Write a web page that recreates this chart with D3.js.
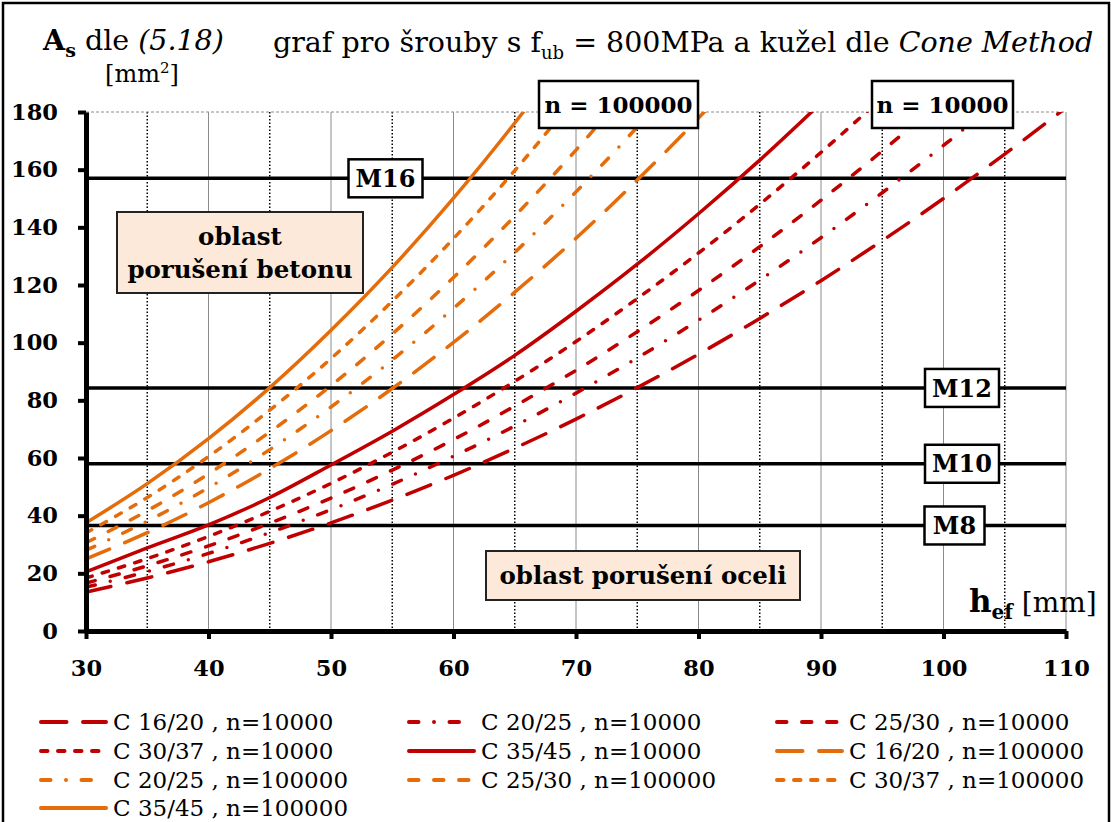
<!DOCTYPE html>
<html>
<head>
<meta charset="utf-8">
<script src="https://cdn.jsdelivr.net/npm/d3@7"></script>
<style>
    body { margin: 0; background: #fff; }
    svg { font-family: "DejaVu Serif", serif; }
</style>
</head>
<body>
<div id="chart"></div>
<script>
// h_ef [mm] sample points
const hef = [30, 35, 40, 45, 50, 55, 60, 65, 70, 75, 80, 85, 90, 95, 100, 105, 110];

// A_s [mm2], n = 10000
const c1620_n10k = [13.5, 18.4, 24.0, 30.4, 37.5, 45.4, 54.0, 63.4, 73.5, 84.4, 96.0, 108.4, 121.5, 135.4, 150.0, 165.4, 181.5];
const c2025_n10k = [15.2, 20.6, 26.9, 34.1, 42.1, 50.9, 60.6, 71.1, 82.5, 94.7, 107.8, 121.7, 136.4, 152.0, 168.4, 185.7];
const c2530_n10k = [16.6, 22.6, 29.5, 37.4, 46.1, 55.8, 66.4, 78.0, 90.4, 103.8, 118.1, 133.3, 149.4, 166.5, 184.5];
const c3037_n10k = [18.4, 25.1, 32.8, 41.5, 51.2, 62.0, 73.8, 86.6, 100.4, 115.3, 131.1, 148.0, 166.0, 184.9];
const c3545_n10k = [20.5, 28.8, 36.8, 46.3, 57.6, 69.3, 82.0, 95.6, 110.9, 127.2, 144.7, 163.3, 183.1];

// A_s [mm2], n = 100000
const c1620_n100k = [25.0, 34.1, 44.5, 56.3, 69.5, 84.1, 100.1, 117.5, 136.2, 156.4, 177.9, 200.9];
const c2025_n100k = [28.0, 38.1, 49.7, 62.9, 77.7, 94.0, 111.9, 131.3, 152.3, 174.8, 198.9];
const c2530_n100k = [30.6, 41.7, 54.5, 69.0, 85.1, 103.0, 122.6, 143.9, 166.8, 191.5];
const c3037_n100k = [34.0, 46.3, 60.5, 76.6, 94.5, 114.4, 136.1, 159.7, 185.3];
const c3545_n100k = [37.5, 51.1, 66.7, 84.4, 104.3, 126.1, 150.1, 176.2, 204.3];

const seriesNames = [
    'C 16/20 , n=10000', 'C 20/25 , n=10000', 'C 25/30 , n=10000',
    'C 30/37 , n=10000', 'C 35/45 , n=10000', 'C 16/20 , n=100000',
    'C 20/25 , n=100000', 'C 25/30 , n=100000', 'C 30/37 , n=100000',
    'C 35/45 , n=100000'
];
const seriesValues = [
    c1620_n10k, c2025_n10k, c2530_n10k, c3037_n10k, c3545_n10k,
    c1620_n100k, c2025_n100k, c2530_n100k, c3037_n100k, c3545_n100k
];

// bolt stress areas
const boltNames = ['M8', 'M10', 'M12', 'M16'];
const boltAreas = [36.6, 58, 84.3, 157];

const xTicks = [30, 40, 50, 60, 70, 80, 90, 100, 110];
const xMinorTicks = [35, 45, 55, 65, 75, 85, 95, 105];
const yTicks = [0, 20, 40, 60, 80, 100, 120, 140, 160, 180];

// --- styles
const RED = '#c00000', ORANGE = '#e46c0a';
const dashes = {
    longDash: '25.5,16.5',
    dashDot: '9.5,15.5,0,15.5',
    dash: '9.5,15.5',
    sysDash: '6.5,10.5',
    solid: null
};
const seriesStyle = [
    { color: RED, dash: dashes.longDash },
    { color: RED, dash: dashes.dashDot },
    { color: RED, dash: dashes.dash },
    { color: RED, dash: dashes.sysDash },
    { color: RED, dash: dashes.solid },
    { color: ORANGE, dash: dashes.longDash },
    { color: ORANGE, dash: dashes.dashDot },
    { color: ORANGE, dash: dashes.dash },
    { color: ORANGE, dash: dashes.sysDash },
    { color: ORANGE, dash: dashes.solid }
];

const W = 1111, H = 822;
const plot = { left: 86, top: 112, right: 1066, bottom: 631 };

const svg = d3.select('#chart').append('svg')
    .attr('width', W)
    .attr('height', H);

svg.append('rect')
    .attr('x', 3).attr('y', 3)
    .attr('width', W - 5).attr('height', H + 10)
    .attr('fill', '#fff')
    .attr('stroke', '#000')
    .attr('stroke-width', 2.5);

const x = d3.scaleLinear().domain([30, 110]).range([plot.left, plot.right]);
const y = d3.scaleLinear().domain([0, 180]).range([plot.bottom, plot.top]);

// --- grid
const g_grid = svg.append('g').attr('class', 'g-grid');
g_grid.selectAll('line.major').data(xTicks.slice(1)).enter().append('line')
    .attr('x1', d => x(d)).attr('x2', d => x(d))
    .attr('y1', plot.top).attr('y2', plot.bottom)
    .attr('stroke', '#8c8c8c').attr('stroke-width', 1);
g_grid.selectAll('line.minor').data(xMinorTicks).enter().append('line')
    .attr('x1', d => x(d)).attr('x2', d => x(d))
    .attr('y1', plot.top).attr('y2', plot.bottom)
    .attr('stroke', '#000').attr('stroke-width', 1.5)
    .attr('stroke-dasharray', '1.5,2');
g_grid.append('line')
    .attr('x1', plot.left).attr('x2', plot.right)
    .attr('y1', y(180)).attr('y2', y(180))
    .attr('stroke', '#8c8c8c').attr('stroke-width', 1)
    .attr('stroke-dasharray', '3,2');

// --- bolt lines
const g_bolt = svg.append('g').attr('class', 'g-bolt');
g_bolt.selectAll('line').data(boltAreas).enter().append('line')
    .attr('x1', plot.left).attr('x2', plot.right)
    .attr('y1', d => y(d)).attr('y2', d => y(d))
    .attr('stroke', '#000').attr('stroke-width', 3.5);

// --- curves
svg.append('clipPath').attr('id', 'plot-clip')
    .append('rect')
    .attr('x', plot.left).attr('y', plot.top)
    .attr('width', plot.right - plot.left).attr('height', plot.bottom - plot.top);

const line = d3.line()
    .x((_, i) => x(hef[i]))
    .y(d => y(d))
    .curve(d3.curveMonotoneX);

const g_chart = svg.append('g').attr('class', 'g-chart').attr('clip-path', 'url(#plot-clip)');
seriesValues.forEach((values, i) => {
    g_chart.append('path')
        .datum(values)
        .attr('fill', 'none')
        .attr('stroke', seriesStyle[i].color)
        .attr('stroke-width', 3.5)
        .attr('stroke-linecap', 'round')
        .attr('stroke-dasharray', seriesStyle[i].dash)
        .attr('d', line);
});

// --- axes
const g_axis = svg.append('g').attr('class', 'g-axis');
const yAxis = d3.axisLeft(y).tickValues(yTicks).tickSizeInner(8).tickSizeOuter(0).tickPadding(20);
const yAxisView = g_axis.append('g')
    .attr('transform', `translate(${plot.left},0)`)
    .call(yAxis);
const xAxis = d3.axisBottom(x).tickValues(xTicks).tickSizeInner(8).tickSizeOuter(0).tickPadding(21);
const xAxisView = g_axis.append('g')
    .attr('transform', `translate(0,${plot.bottom})`)
    .call(xAxis);
[yAxisView, xAxisView].forEach(v => {
    v.select('.domain').attr('stroke', '#000').attr('stroke-width', 5);
    v.selectAll('.tick line').attr('stroke', '#000').attr('stroke-width', 4);
    v.selectAll('.tick text')
        .attr('fill', '#000')
        .style('font-family', '"DejaVu Serif", serif')
        .style('font-size', '22.5px')
        .style('font-weight', 'bold');
});

// --- boxed labels
function boxLabel(cx, cy, w, h, text, opts) {
    opts = opts || {};
    const g = svg.append('g');
    g.append('rect')
        .attr('x', cx - w / 2).attr('y', cy - h / 2)
        .attr('width', w).attr('height', h)
        .attr('fill', opts.fill || '#fff')
        .attr('stroke', opts.stroke || '#000')
        .attr('stroke-width', opts.strokeWidth || 2.5);
    const lines = Array.isArray(text) ? text : [text];
    const lh = opts.lineHeight || 32;
    lines.forEach((t, i) => {
        g.append('text')
            .attr('x', cx)
            .attr('y', cy + (i - (lines.length - 1) / 2) * lh)
            .attr('dy', '0.36em')
            .attr('text-anchor', 'middle')
            .style('font-size', (opts.size || 24) + 'px')
            .style('font-weight', 'bold')
            .text(t);
    });
}

const boltLabelPos = [[954.5, 60], [962, 74], [962, 74], [385.5, 74]];
boltNames.forEach((name, i) => {
    boxLabel(boltLabelPos[i][0], y(boltAreas[i]), boltLabelPos[i][1], 38, name, { size: 24 });
});

boxLabel(618.5, 104.5, 159, 47, 'n = 100000', { size: 23 });
boxLabel(942.5, 104.5, 141, 47, 'n = 10000', { size: 23 });

boxLabel(240, 252.5, 246, 81, ['oblast', 'porušení betonu'],
    { size: 24.5, fill: '#fde9d9', stroke: '#222', strokeWidth: 2, lineHeight: 33 });
boxLabel(643, 575.5, 314, 49, 'oblast porušení oceli',
    { size: 24.5, fill: '#fde9d9', stroke: '#222', strokeWidth: 2 });

// --- titles
const tLeft = svg.append('text').attr('x', 43).attr('y', 50).style('font-size', '28.5px');
tLeft.append('tspan').style('font-weight', 'bold').text('A');
tLeft.append('tspan').attr('dy', 7).style('font-weight', 'bold').style('font-size', '19px').text('s');
tLeft.append('tspan').attr('dy', -7).text(' dle ');
tLeft.append('tspan').style('font-style', 'italic').text('(5.18)');

const tUnit = svg.append('text').attr('x', 142).attr('y', 82)
    .attr('text-anchor', 'middle').style('font-size', '24px');
tUnit.append('tspan').text('[mm');
tUnit.append('tspan').attr('dy', -9).style('font-size', '15px').text('2');
tUnit.append('tspan').attr('dy', 9).text(']');

const tRight = svg.append('text').attr('x', 273).attr('y', 52).style('font-size', '28.5px');
tRight.append('tspan').text('graf pro šrouby s f');
tRight.append('tspan').attr('dy', 7).style('font-size', '18px').text('ub');
tRight.append('tspan').attr('dy', -7).text(' = 800MPa a kužel dle ');
tRight.append('tspan').style('font-style', 'italic').text('Cone Method');

const tX = svg.append('text').attr('x', 969).attr('y', 612).style('font-size', '28px');
tX.append('tspan').style('font-weight', 'bold').style('font-size', '31px').text('h');
tX.append('tspan').attr('dy', 7).style('font-weight', 'bold').style('font-size', '20px').text('ef');
tX.append('tspan').attr('dy', -7).text(' [mm]');

// --- legend
const legendCols = [39, 407, 775];
const legendRows = [722, 751, 780, 808];
const g_legend = svg.append('g').attr('class', 'g-legend');
seriesNames.forEach((name, i) => {
    const lx = legendCols[i % 3], ly = legendRows[Math.floor(i / 3)];
    g_legend.append('line')
        .attr('x1', lx + 2).attr('x2', lx + 67)
        .attr('y1', ly).attr('y2', ly)
        .attr('stroke', seriesStyle[i].color)
        .attr('stroke-width', 4)
        .attr('stroke-linecap', 'round')
        .attr('stroke-dasharray', seriesStyle[i].dash);
    g_legend.append('text')
        .attr('x', lx + 74).attr('y', ly)
        .attr('dy', '0.36em')
        .style('font-size', '23px')
        .text(name);
});
</script>
</body>
</html>
